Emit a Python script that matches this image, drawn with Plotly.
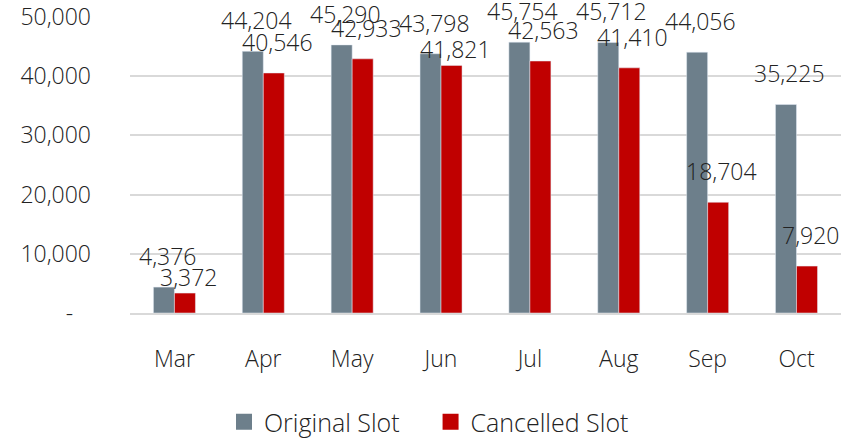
import plotly.graph_objects as go

months = ["Mar", "Apr", "May", "Jun", "Jul", "Aug", "Sep", "Oct"]
original_slot = [4376, 44204, 45290, 43798, 45754, 45712, 44056, 35225]
cancelled_slot = [3372, 40546, 42933, 41821, 42563, 41410, 18704, 7920]
y_ticks = [0, 10000, 20000, 30000, 40000, 50000]
y_ticktext = ["-\u00a0\u00a0\u00a0", "10,000", "20,000", "30,000", "40,000", "50,000"]
series_names = ["Original Slot", "Cancelled Slot"]

GRAY = "#6D7F8B"
RED = "#C00000"
FONT = "Open Sans"
TXT = "#222222"
FS = 23
W = 300

fig = go.Figure()
fig.add_trace(go.Bar(x=months, y=original_slot, name=series_names[0], marker_color=GRAY,
                     showlegend=False, offsetgroup="a"))
fig.add_trace(go.Bar(x=months, y=cancelled_slot, name=series_names[1], marker_color=RED,
                     showlegend=False, offsetgroup="b"))
# legend entries
fig.add_trace(go.Scatter(x=[None], y=[None], mode="markers",
                         name=series_names[0] + "\u00a0" * 4,
                         marker=dict(symbol="square", size=19, color=GRAY)))
fig.add_trace(go.Scatter(x=[None], y=[None], mode="markers", name=series_names[1],
                         marker=dict(symbol="square", size=19, color=RED)))

annotations = []
for m, v in zip(months, original_slot):
    annotations.append(dict(x=m, y=v, xref="x", yref="y", text=f"{v:,}", showarrow=False,
                            yanchor="bottom", xanchor="center", xshift=-7, yshift=13,
                            font=dict(family=FONT, size=FS, color=TXT, weight=W)))
for m, v, o in zip(months, cancelled_slot, original_slot):
    # when both labels nearly collide, the red one sits closer to its bar
    ys = -2 if (o - v) < 2000 else 13
    annotations.append(dict(x=m, y=v, xref="x", yref="y", text=f"{v:,}", showarrow=False,
                            yanchor="bottom", xanchor="center", xshift=14, yshift=ys,
                            font=dict(family=FONT, size=FS, color=TXT, weight=W)))

fig.update_layout(
    width=858, height=439,
    margin=dict(l=130, r=17, t=17, b=126, autoexpand=False),
    paper_bgcolor="white", plot_bgcolor="white",
    font=dict(family=FONT, size=FS, color=TXT, weight=W),
    barmode="group", bargap=0.527, bargroupgap=0,
    annotations=annotations,
    legend=dict(orientation="h", xref="container", yref="container",
                x=0.5, xanchor="center", y=(439 - 422) / 439, yanchor="middle",
                font=dict(family=FONT, size=25, color=TXT, weight=W)),
    xaxis=dict(showgrid=False, showline=True, linecolor="#d9d9d9", linewidth=1.5,
               ticks="", ticklabelstandoff=25, automargin=False),
    yaxis=dict(range=[0, 50000], tickvals=y_ticks, ticktext=y_ticktext,
               showgrid=True, gridcolor="#d9d9d9", gridwidth=1.5, zeroline=False,
               ticks="", ticklabelstandoff=38, automargin=False),
)
fig.update_traces(cliponaxis=False)

fig.write_html("out.html", config={"displayModeBar": False},
               post_script="document.body.style.margin='0';document.body.style.padding='0';")
